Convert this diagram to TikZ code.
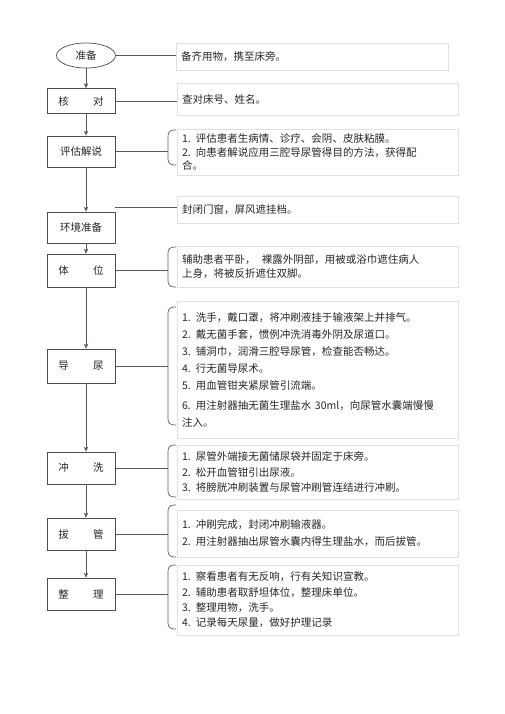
\documentclass[tikz,border=0pt]{standalone}
\usepackage{fontspec}
\setmainfont{Noto Sans CJK SC}
\usetikzlibrary{shapes.geometric,arrows.meta,calc}
\newcommand\mybrace[3]{\draw[conn] (#1+8,#2) .. controls (#1+1,#2) and (#1,#2+2) .. (#1,#2+7) -- (#1,#3-7) .. controls (#1,#3-2) and (#1+1,#3) .. (#1+8,#3);}
\begin{document}
\begin{tikzpicture}[x=1pt,y=-1pt,
  every node/.style={text=black!85},
  stepbox/.style={draw=black!70, line width=0.7pt, minimum width=68pt, inner sep=0pt, font=\fontsize{10.5pt}{13pt}\selectfont},
  tbox/.style={draw=black!12, line width=0.6pt, inner xsep=5pt, inner ysep=0pt, align=left, text width=271pt, minimum width=281pt},
  conn/.style={draw=black!65, line width=0.7pt},
  arr/.style={conn, -{Stealth[length=5pt,width=4.5pt]}}]
\fill[white] (0,0) rectangle (505,714);
\useasboundingbox (0,0) rectangle (505,714);

% left column
\node[ellipse, draw=black!70, line width=0.7pt, minimum width=59pt, minimum height=25pt, inner sep=0pt, font=\fontsize{10.5pt}{13pt}\selectfont] (prep) at (86,55.5) {准备};
\node[stepbox, minimum height=25pt] (check) at (81,101) {核\hspace{2.3em}对};
\node[stepbox, minimum height=31pt] (eval) at (81,151.5) {评估解说};
\node[stepbox, minimum height=31pt] (env) at (81,227.5) {环境准备};
\node[stepbox, minimum height=33pt] (pos) at (81,270.5) {体\hspace{2.3em}位};
\node[stepbox, minimum height=34pt] (cath) at (81,366) {导\hspace{2.3em}尿};
\node[stepbox, minimum height=32pt] (wash) at (81,468) {冲\hspace{2.3em}洗};
\node[stepbox, minimum height=32pt] (pull) at (81,534) {拔\hspace{2.3em}管};
\node[stepbox, minimum height=32pt] (tidy) at (81,594) {整\hspace{2.3em}理};

\draw[arr] (prep.south) -- (prep.south |- check.north);
\draw[arr] (check.south -| prep.south) -- (eval.north -| prep.south);
\draw[arr] (eval.south -| prep.south) -- (env.north -| prep.south);
\draw[arr] (env.south -| prep.south) -- (pos.north -| prep.south);
\draw[arr] (pos.south -| prep.south) -- (cath.north -| prep.south);
\draw[arr] (cath.south -| prep.south) -- (wash.north -| prep.south);
\draw[arr] (wash.south -| prep.south) -- (pull.north -| prep.south);
\draw[arr] (pull.south -| prep.south) -- (tidy.north -| prep.south);

% right column text boxes
\node[tbox, text width=262pt, minimum width=272pt, minimum height=27pt, font=\fontsize{10.5pt}{13pt}\selectfont] (t1) at (312,56.5) {备齐用物，携至床旁。};
\node[tbox, minimum height=32pt, font=\fontsize{10.5pt}{13pt}\selectfont] (t2) at (317.5,99) {查对床号、姓名。};
\node[tbox, minimum height=46pt, font=\fontsize{10.5pt}{13.5pt}\selectfont] (t3) at (317.5,152) {1. 评估患者生病情、诊疗、会阴、皮肤粘膜。\\2. 向患者解说应用三腔导尿管得目的方法，获得配\\合。};
\node[tbox, minimum height=27pt, font=\fontsize{10.5pt}{13pt}\selectfont] (t4) at (317.5,210) {封闭门窗，屏风遮挂档。};
\node[tbox, minimum height=41pt, font=\fontsize{10.5pt}{14pt}\selectfont] (t5) at (317.5,266.5) {辅助患者平卧，\hspace{0.6em}裸露外阴部，用被或浴巾遮住病人\\上身，将被反折遮住双脚。};
\node[tbox, minimum height=137pt, font=\fontsize{10.5pt}{17pt}\selectfont] (t6) at (317.5,369.5) {1. 洗手，戴口罩，将冲刷液挂于输液架上并排气。\\2. 戴无菌手套，惯例冲洗消毒外阴及尿道口。\\3. 铺洞巾，润滑三腔导尿管，检查能否畅达。\\4. 行无菌导尿术。\\5. 用血管钳夹紧尿管引流端。\\[3pt]6. 用注射器抽无菌生理盐水 30ml，向尿管水囊端慢慢\\注入。};
\node[tbox, minimum height=54pt, font=\fontsize{10.5pt}{15.5pt}\selectfont] (t7) at (317.5,472) {1. 尿管外端接无菌储尿袋并固定于床旁。\\2. 松开血管钳引出尿液。\\3. 将膀胱冲刷装置与尿管冲刷管连结进行冲刷。};
\node[tbox, minimum height=47pt, font=\fontsize{10.5pt}{17pt}\selectfont] (t8) at (317.5,533.5) {1. 冲刷完成，封闭冲刷输液器。\\2. 用注射器抽出尿管水囊内得生理盐水，而后拔管。};
\node[tbox, minimum height=70pt, font=\fontsize{10.5pt}{15.3pt}\selectfont] (t9) at (317.5,600) {1. 察看患者有无反响，行有关知识宣教。\\2. 辅助患者取舒坦体位，整理床单位。\\3. 整理用物，洗手。\\4. 记录每天尿量，做好护理记录};

% connectors
\draw[conn] (prep.east) -- (prep.east -| t1.west);
\draw[conn] (check.east) -- (check.east -| t2.west);
\draw[conn] (eval.east) -- ++(53,0) coordinate (b3);
\draw[conn] ([yshift=4pt]env.north east) -- ([yshift=4pt]env.north east -| t4.west);
\draw[conn] (pos.east) -- ++(53,0) coordinate (b5);
\draw[conn] (cath.east) -- ++(53,0) coordinate (b6);
\draw[conn] (wash.east) -- ++(53,0) coordinate (b7);
\draw[conn] (pull.east) -- ++(53,0) coordinate (b8);
\draw[conn] (tidy.east) -- ++(53,0) coordinate (b9);

\mybrace{168}{130}{165}
\mybrace{168}{247}{287}
\mybrace{168}{307}{425}
\mybrace{168}{445}{497}
\mybrace{168}{505}{557}
\mybrace{168}{565}{629}
\end{tikzpicture}
\end{document}
